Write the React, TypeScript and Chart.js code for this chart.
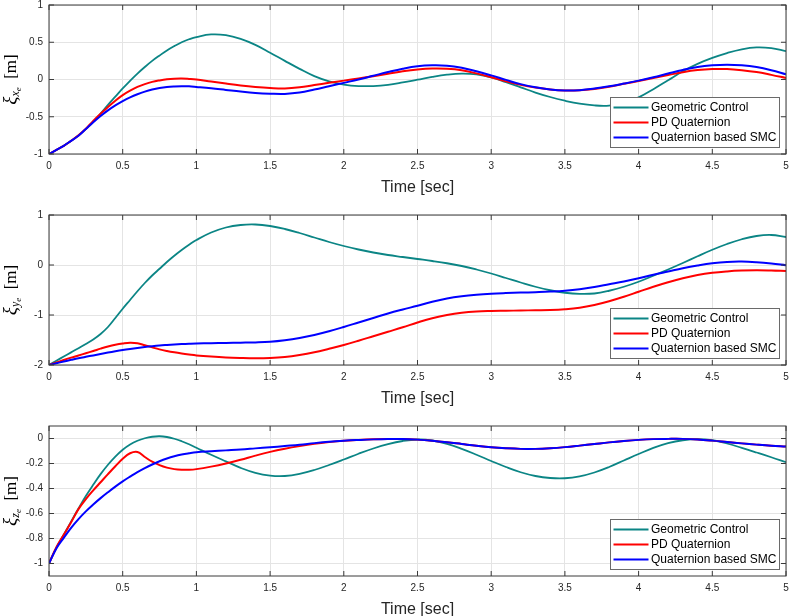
import React, { useEffect, useRef } from 'react';
import { Chart, registerables } from 'chart.js';

Chart.register(...registerables);

// time samples [sec] (denser during the first second)
const timeSec = [
  0, 0.05, 0.1, 0.15, 0.2, 0.25, 0.3, 0.35, 0.4, 0.45, 0.5, 0.55, 0.6, 0.65, 0.7, 0.75, 0.8, 0.85, 0.9, 0.95, 1,
  1.1, 1.2, 1.3, 1.4, 1.5, 1.6, 1.7, 1.8, 1.9, 2, 2.1, 2.2, 2.3, 2.4, 2.5, 2.6, 2.7, 2.8, 2.9, 3,
  3.1, 3.2, 3.3, 3.4, 3.5, 3.6, 3.7, 3.8, 3.9, 4, 4.1, 4.2, 4.3, 4.4, 4.5, 4.6, 4.7, 4.8, 4.9, 5,
];

const seriesNames = ['Geometric Control', 'PD Quaternion', 'Quaternion based SMC'];
const seriesColors = ['#0b8585', '#ff0000', '#0000ff'];
const seriesWidths = [1.8, 2, 2];

// xi_xe
const xeGeometric = [
  -1, -0.946, -0.89, -0.823, -0.75, -0.665, -0.57, -0.457, -0.34, -0.23, -0.12, -0.017, 0.08, 0.168, 0.25, 0.322, 0.39, 0.448, 0.5, 0.54, 0.57,
  0.605, 0.595, 0.545, 0.465, 0.36, 0.25, 0.143, 0.045, -0.025, -0.068, -0.088, -0.088, -0.072, -0.04, -0.003, 0.035, 0.065, 0.08, 0.07, 0.03,
  -0.035, -0.105, -0.175, -0.235, -0.285, -0.325, -0.348, -0.35, -0.315, -0.24, -0.13, -0.01, 0.11, 0.21, 0.29, 0.355, 0.405, 0.43, 0.42, 0.38,
];
const xePD = [
  -1, -0.946, -0.89, -0.823, -0.75, -0.662, -0.555, -0.458, -0.37, -0.285, -0.21, -0.15, -0.1, -0.062, -0.032, -0.012, 0.003, 0.011, 0.013, 0.008, 0,
  -0.028, -0.055, -0.08, -0.1, -0.114, -0.12, -0.105, -0.075, -0.045, -0.015, 0.015, 0.045, 0.077, 0.11, 0.135, 0.148, 0.145, 0.125, 0.082, 0.03,
  -0.025, -0.072, -0.108, -0.133, -0.147, -0.145, -0.127, -0.097, -0.058, -0.02, 0.02, 0.06, 0.098, 0.126, 0.14, 0.14, 0.125, 0.1, 0.062, 0.02,
];
const xeSMC = [
  -1, -0.946, -0.89, -0.823, -0.755, -0.665, -0.575, -0.49, -0.415, -0.348, -0.29, -0.24, -0.198, -0.163, -0.135, -0.114, -0.1, -0.093, -0.09, -0.092, -0.1,
  -0.118, -0.14, -0.162, -0.18, -0.19, -0.193, -0.175, -0.135, -0.09, -0.045, 0, 0.05, 0.1, 0.145, 0.178, 0.19, 0.185, 0.157, 0.11, 0.055,
  -0.005, -0.062, -0.105, -0.135, -0.148, -0.143, -0.122, -0.092, -0.055, -0.015, 0.03, 0.08, 0.128, 0.168, 0.19, 0.198, 0.19, 0.167, 0.125, 0.07,
];

// xi_ye
const yeGeometric = [
  -2, -1.915, -1.83, -1.747, -1.665, -1.58, -1.49, -1.38, -1.24, -1.06, -0.875, -0.7, -0.525, -0.36, -0.21, -0.075, 0.06, 0.185, 0.3, 0.405, 0.5,
  0.65, 0.75, 0.8, 0.81, 0.78, 0.72, 0.64, 0.55, 0.46, 0.38, 0.31, 0.25, 0.2, 0.16, 0.12, 0.08, 0.035, -0.02, -0.09, -0.17,
  -0.26, -0.35, -0.435, -0.505, -0.555, -0.578, -0.57, -0.515, -0.435, -0.335, -0.215, -0.09, 0.04, 0.175, 0.305, 0.42, 0.515, 0.58, 0.6, 0.56,
];
const yePD = [
  -2, -1.95, -1.9, -1.853, -1.81, -1.765, -1.72, -1.673, -1.63, -1.595, -1.57, -1.555, -1.565, -1.605, -1.648, -1.688, -1.72, -1.747, -1.77, -1.79, -1.808,
  -1.832, -1.85, -1.86, -1.865, -1.86, -1.84, -1.8, -1.745, -1.675, -1.6, -1.515, -1.425, -1.335, -1.245, -1.15, -1.065, -1, -0.955, -0.93, -0.92,
  -0.915, -0.91, -0.905, -0.9, -0.885, -0.855, -0.8, -0.725, -0.635, -0.535, -0.435, -0.345, -0.265, -0.2, -0.155, -0.128, -0.112, -0.105, -0.11, -0.12,
];
const yeSMC = [
  -2, -1.965, -1.93, -1.897, -1.865, -1.836, -1.808, -1.78, -1.752, -1.725, -1.7, -1.678, -1.658, -1.64, -1.624, -1.61, -1.599, -1.589, -1.581, -1.575, -1.57,
  -1.564, -1.559, -1.554, -1.548, -1.535, -1.505, -1.46, -1.4, -1.325, -1.24, -1.15, -1.06, -0.97, -0.89, -0.815, -0.735, -0.67, -0.625, -0.595, -0.575,
  -0.562, -0.552, -0.543, -0.532, -0.515, -0.485, -0.44, -0.385, -0.33, -0.265, -0.195, -0.13, -0.065, -0.01, 0.035, 0.062, 0.068, 0.055, 0.03, -0.005,
];

// xi_ze
const zeGeometric = [
  -1, -0.875, -0.77, -0.665, -0.56, -0.46, -0.37, -0.285, -0.21, -0.145, -0.09, -0.048, -0.018, 0.002, 0.014, 0.018, 0.012, -0.002, -0.022, -0.046, -0.074,
  -0.13, -0.183, -0.235, -0.275, -0.297, -0.3, -0.283, -0.252, -0.212, -0.168, -0.122, -0.08, -0.045, -0.02, -0.008, -0.016, -0.043, -0.083, -0.13, -0.18,
  -0.228, -0.27, -0.3, -0.316, -0.318, -0.303, -0.272, -0.228, -0.176, -0.124, -0.075, -0.037, -0.014, -0.005, -0.014, -0.04, -0.075, -0.112, -0.15, -0.19,
];
const zePD = [
  -1, -0.87, -0.77, -0.67, -0.565, -0.485, -0.415, -0.35, -0.285, -0.222, -0.162, -0.118, -0.108, -0.148, -0.185, -0.213, -0.233, -0.245, -0.25, -0.25, -0.245,
  -0.225, -0.2, -0.17, -0.137, -0.107, -0.082, -0.061, -0.043, -0.029, -0.018, -0.011, -0.006, -0.004, -0.004, -0.009, -0.018, -0.03, -0.044, -0.058, -0.07,
  -0.078, -0.083, -0.083, -0.078, -0.069, -0.057, -0.044, -0.031, -0.02, -0.011, -0.005, -0.003, -0.003, -0.008, -0.017, -0.028, -0.039, -0.049, -0.058, -0.065,
];
const zeSMC = [
  -1, -0.88, -0.795, -0.715, -0.645, -0.583, -0.528, -0.477, -0.43, -0.385, -0.343, -0.305, -0.269, -0.237, -0.208, -0.182, -0.16, -0.142, -0.128, -0.118, -0.11,
  -0.102, -0.095, -0.088, -0.079, -0.07, -0.06, -0.05, -0.037, -0.026, -0.018, -0.012, -0.007, -0.004, -0.004, -0.009, -0.018, -0.03, -0.044, -0.058, -0.07,
  -0.078, -0.083, -0.083, -0.078, -0.069, -0.057, -0.044, -0.031, -0.02, -0.011, -0.005, -0.003, -0.003, -0.008, -0.017, -0.028, -0.039, -0.049, -0.058, -0.065,
];

const timeTicks = [0, 0.5, 1, 1.5, 2, 2.5, 3, 3.5, 4, 4.5, 5];
const xeTicks = [-1, -0.5, 0, 0.5, 1];
const yeTicks = [-2, -1, 0, 1];
const zeTicks = [-1, -0.8, -0.6, -0.4, -0.2, 0];

const xAxisTitle = 'Time [sec]';

const SANS = '"Liberation Sans", Arial, sans-serif';
const SERIF = '"Liberation Serif", "Times New Roman", serif';
const frameColor = '#3a3a3a';
const gridColor = '#e4e4e4';
const textColor = '#262626';

const PAD_TOP = 8;
const X_AXIS_H = 44;
const Y_AXIS_W = 49;

const fmt = (v: number | string) => `${+(+v).toFixed(2)}`;

interface DecorOpts {
  sub: string;
}

const panelDecor = {
  id: 'panelDecor',
  afterDraw(chart: any, _args: unknown, opts: DecorOpts) {
    const { ctx, chartArea: a, scales } = chart;
    const xs = scales.x;
    const ys = scales.y;
    ctx.save();

    // inward tick marks + box
    ctx.strokeStyle = frameColor;
    ctx.lineWidth = 1;
    ctx.beginPath();
    xs.ticks.forEach((t: any) => {
      const px = xs.getPixelForValue(t.value);
      ctx.moveTo(px, a.bottom);
      ctx.lineTo(px, a.bottom - 5);
      ctx.moveTo(px, a.top);
      ctx.lineTo(px, a.top + 5);
    });
    ys.ticks.forEach((t: any) => {
      const py = ys.getPixelForValue(t.value);
      ctx.moveTo(a.left, py);
      ctx.lineTo(a.left + 5, py);
      ctx.moveTo(a.right, py);
      ctx.lineTo(a.right - 5, py);
    });
    ctx.stroke();
    ctx.strokeRect(a.left, a.top, a.right - a.left, a.bottom - a.top);

    // x title
    ctx.fillStyle = textColor;
    ctx.font = `16px ${SANS}`;
    ctx.textAlign = 'center';
    ctx.textBaseline = 'alphabetic';
    ctx.fillText(xAxisTitle, (a.left + a.right) / 2, a.bottom + 37.5);

    // y title: xi_{sub_e} [m], rotated
    const parts = [
      { text: 'ξ', font: `italic 19px ${SERIF}`, dy: 0 },
      { text: opts.sub, font: `italic 12px ${SERIF}`, dy: 3 },
      { text: 'e', font: `italic 9px ${SERIF}`, dy: 5 },
      { text: '  [m]', font: `17px ${SERIF}`, dy: 0 },
    ];
    let total = 0;
    const widths = parts.map((p) => {
      ctx.font = p.font;
      const w = ctx.measureText(p.text).width;
      total += w;
      return w;
    });
    ctx.save();
    ctx.translate(16, (a.top + a.bottom) / 2);
    ctx.rotate(-Math.PI / 2);
    ctx.fillStyle = '#000';
    ctx.textAlign = 'left';
    let px = -total / 2;
    parts.forEach((p, i) => {
      ctx.font = p.font;
      ctx.fillText(p.text, px, p.dy);
      px += widths[i];
    });
    ctx.restore();

    // legend (lower right, inside axes)
    const bw = 169;
    const bh = 50;
    const bx = a.right - 7 - bw;
    const by = a.bottom - 7 - bh;
    ctx.fillStyle = '#ffffff';
    ctx.fillRect(bx, by, bw, bh);
    ctx.strokeStyle = '#6a6a6a';
    ctx.lineWidth = 1;
    ctx.strokeRect(Math.round(bx) + 0.5, Math.round(by) + 0.5, bw, bh);
    ctx.font = `12px ${SANS}`;
    ctx.textAlign = 'left';
    ctx.textBaseline = 'middle';
    chart.data.datasets.forEach((ds: any, i: number) => {
      const cy = by + 10.5 + i * 15;
      ctx.strokeStyle = ds.borderColor;
      ctx.lineWidth = ds.borderWidth;
      ctx.beginPath();
      ctx.moveTo(bx + 3.5, cy);
      ctx.lineTo(bx + 38.5, cy);
      ctx.stroke();
      ctx.fillStyle = '#000';
      ctx.fillText(ds.label, bx + 41, cy + 0.5);
    });

    ctx.restore();
  },
};

interface PanelProps {
  top: number;
  plotH: number;
  yMin: number;
  yMax: number;
  yTicks: number[];
  sub: string;
  series: number[][];
}

const Panel: React.FC<PanelProps> = ({ top, plotH, yMin, yMax, yTicks, sub, series }) => {
  const ref = useRef<HTMLCanvasElement>(null);
  const h = PAD_TOP + plotH + X_AXIS_H;

  useEffect(() => {
    if (!ref.current) return;
    const chart = new Chart(ref.current, {
      type: 'line',
      data: {
        datasets: series.map((vals, i) => ({
          label: seriesNames[i],
          data: timeSec.map((t, k) => ({ x: t, y: vals[k] })),
          borderColor: seriesColors[i],
          backgroundColor: seriesColors[i],
          borderWidth: seriesWidths[i],
          pointRadius: 0,
          tension: 0.4,
          fill: false,
          order: series.length - i,
        })),
      },
      options: {
        responsive: false,
        animation: false,
        events: [],
        layout: { padding: { top: PAD_TOP, left: 0, right: 0, bottom: 0 } },
        plugins: {
          legend: { display: false },
          tooltip: { enabled: false },
          panelDecor: { sub },
        } as any,
        scales: {
          x: {
            type: 'linear',
            min: 0,
            max: 5,
            afterBuildTicks: (s: any) => {
              s.ticks = timeTicks.map((v) => ({ value: v }));
            },
            afterFit: (s: any) => {
              s.height = X_AXIS_H;
              s.paddingLeft = 0;
              s.paddingRight = 3;
            },
            grid: { color: gridColor, lineWidth: 1, drawTicks: false },
            border: { display: false },
            ticks: {
              padding: 6,
              maxRotation: 0,
              autoSkip: false,
              color: textColor,
              font: { family: SANS, size: 10 },
              callback: (v: any) => fmt(v),
            },
          },
          y: {
            type: 'linear',
            min: yMin,
            max: yMax,
            afterBuildTicks: (s: any) => {
              s.ticks = yTicks.map((v) => ({ value: v }));
            },
            afterFit: (s: any) => {
              s.width = Y_AXIS_W;
              s.paddingTop = 0;
              s.paddingBottom = 0;
            },
            grid: { color: gridColor, lineWidth: 1, drawTicks: false },
            border: { display: false },
            ticks: {
              padding: 6,
              autoSkip: false,
              color: textColor,
              font: { family: SANS, size: 10 },
              callback: (v: any) => fmt(v),
            },
          },
        },
      },
      plugins: [panelDecor as any],
    });
    return () => {
      chart.destroy();
    };
  }, [plotH, yMin, yMax, yTicks, sub, series]);

  return (
    <canvas
      ref={ref}
      width={789}
      height={h}
      style={{ position: 'absolute', left: 0, top: top - PAD_TOP, width: 789, height: h }}
    />
  );
};

const xeSeries = [xeGeometric, xePD, xeSMC];
const yeSeries = [yeGeometric, yePD, yeSMC];
const zeSeries = [zeGeometric, zePD, zeSMC];

export default function App() {
  return (
    <div
      style={{
        position: 'absolute',
        left: 0,
        top: 0,
        width: 789,
        height: 616,
        overflow: 'hidden',
        background: '#ffffff',
      }}
    >
      <Panel top={5} plotH={149} yMin={-1} yMax={1} yTicks={xeTicks} sub="x" series={xeSeries} />
      <Panel top={215} plotH={150} yMin={-2} yMax={1} yTicks={yeTicks} sub="y" series={yeSeries} />
      <Panel top={426} plotH={150} yMin={-1.1} yMax={0.1} yTicks={zeTicks} sub="z" series={zeSeries} />
    </div>
  );
}
